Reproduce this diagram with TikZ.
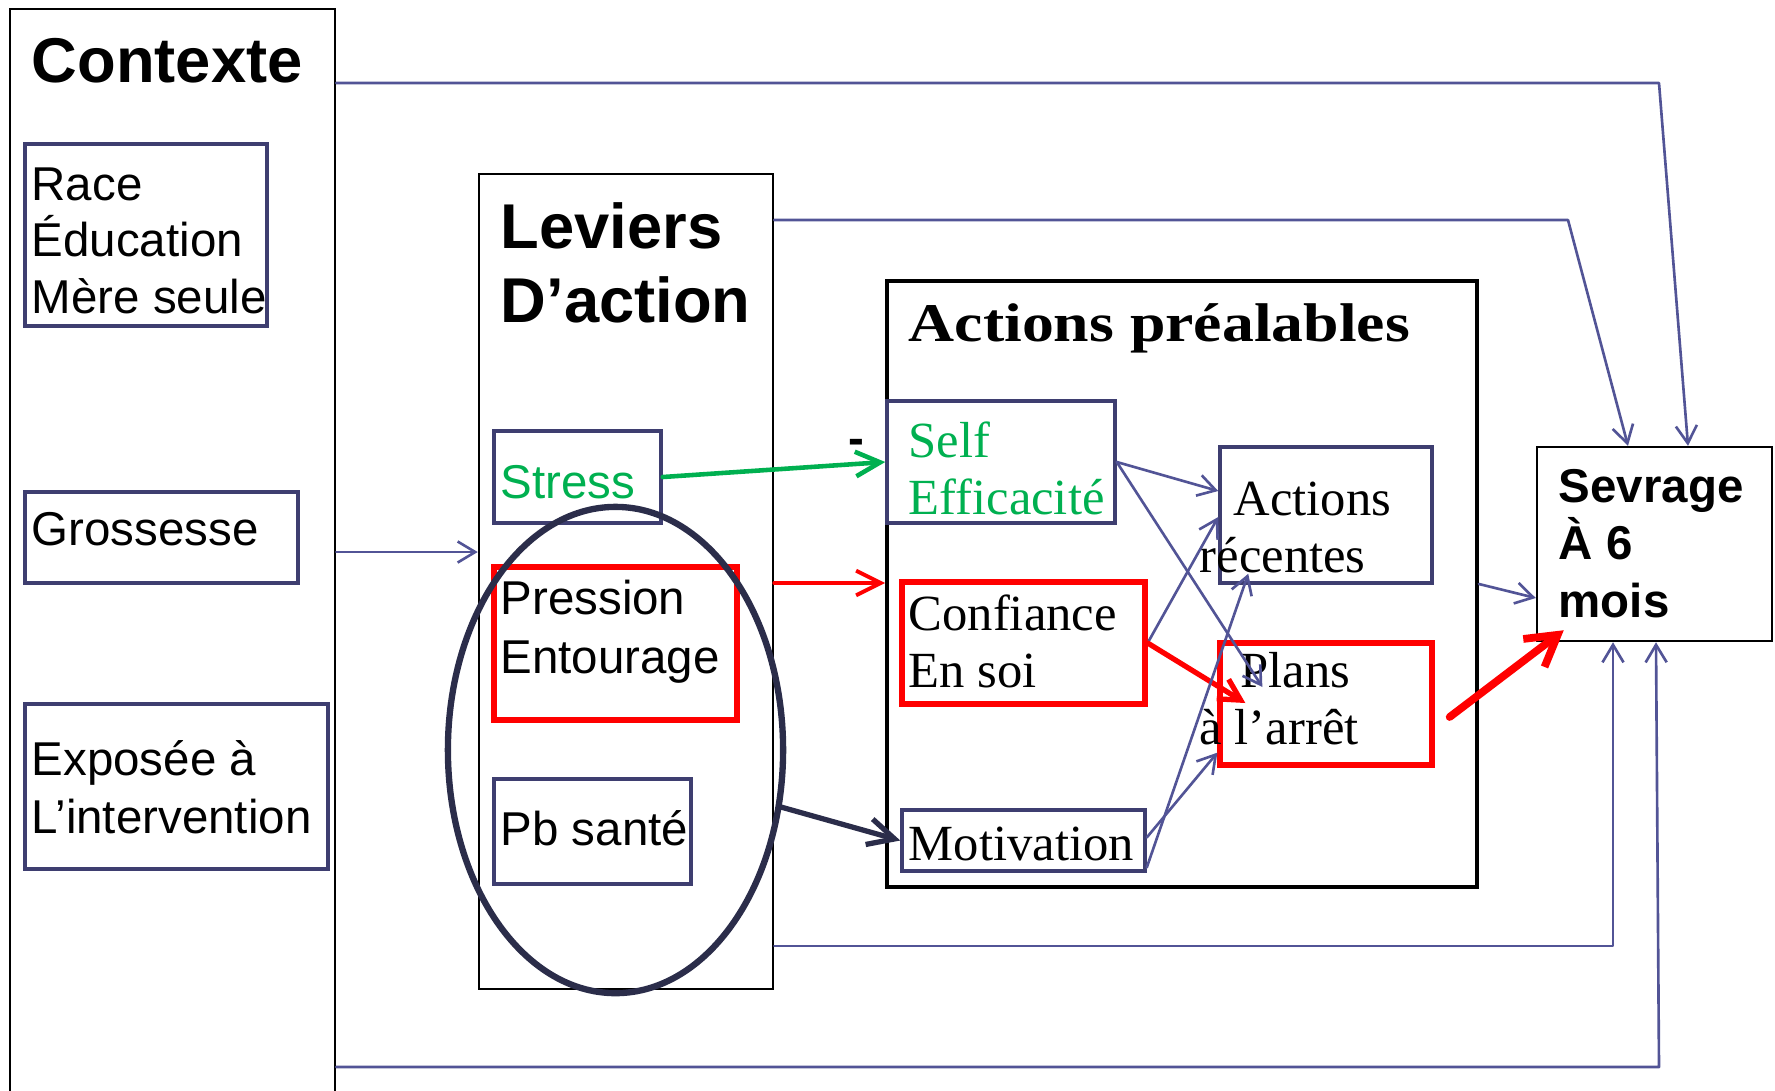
\documentclass[tikz,border=0pt]{standalone}
\usepackage{fontspec}
\setmainfont{Liberation Serif}
\setsansfont{Liberation Sans}
\usepackage{graphicx}
\usetikzlibrary{arrows.meta,fit,calc,shapes.geometric}

\definecolor{navy}{RGB}{62,62,112}
\definecolor{linec}{RGB}{82,84,150}
\definecolor{dnavy}{RGB}{43,45,74}
\definecolor{pgreen}{RGB}{0,176,80}
\definecolor{pred}{RGB}{255,0,0}

\newcommand\mlines[2]{\vtop{\baselineskip=#1\relax\lineskiplimit=-100pt\lineskip=0pt\halign{##\hfil\cr#2\crcr}}}

\tikzset{
  cbox/.style={draw=black, line width=0.7pt, inner sep=0pt},
  nbox/.style={draw=navy, line width=1pt, inner sep=0pt},
  rbox/.style={draw=pred, line width=1.5pt, inner sep=0pt},
  body/.style={inner sep=0pt, anchor=base west, font=\sffamily\fontsize{13.5}{16}\selectfont},
  hsans/.style={inner sep=0pt, anchor=base west, font=\sffamily\bfseries\fontsize{18}{21}\selectfont},
  bsans/.style={inner sep=0pt, anchor=base west, font=\sffamily\bfseries\fontsize{13.5}{16}\selectfont},
  serifbody/.style={inner sep=0pt, anchor=base west, font=\rmfamily\fontsize{14.4}{16.4}\selectfont},
  ttl/.style={inner sep=0pt, anchor=base west, font=\rmfamily\bfseries\fontsize{15.5}{18}\selectfont},
  thinarr/.style={draw=linec, line width=0.75pt, line cap=round, line join=round,
    -{Straight Barb[length=5pt,width=6pt]}},
  greenarr/.style={draw=pgreen, line width=1.3pt, line cap=round, line join=round,
    -{Straight Barb[length=7pt,width=7pt]}},
  redarr/.style={draw=pred, line width=1.1pt, line cap=round, line join=round,
    -{Straight Barb[length=7pt,width=7pt]}},
  redarrb/.style={draw=pred, line width=1.5pt, line cap=round, line join=round,
    -{Straight Barb[length=6pt,width=6.5pt]}},
  redarrc/.style={draw=pred, line width=2.2pt, line cap=round, line join=round,
    -{Straight Barb[length=8.5pt,width=10pt]}},
  darkarr/.style={draw=dnavy, line width=1.5pt, line cap=round, line join=round,
    -{Straight Barb[length=7.5pt,width=7.5pt]}},
}

\begin{document}
\begin{tikzpicture}[x=0.01cm,y=-0.01cm]
\useasboundingbox (0,0) rectangle (1775,1090);
\clip (0,0) rectangle (1775,1090);

% containers
\node[cbox, fit={(10,9) (335,1100)}] (ctx) {};
\node[cbox, fit={(479,174) (773,989)}] (lev) {};
\node[cbox, line width=1.1pt, fit={(887,281) (1477,887)}] (ap) {};
\node[cbox, fit={(1537,447) (1772,641)}] (sev) {};

% boxes
\node[nbox, fit={(25,144) (267,326)}] (race) {};
\node[nbox, fit={(25,492) (298,583)}] (gro) {};
\node[nbox, fit={(25,704) (328,869)}] (expo) {};
\node[nbox, fit={(494,431) (661,523)}] (str) {};
\node[rbox, fit={(494,567) (737,720)}] (pres) {};
\node[nbox, fit={(494,779) (691,884)}] (pb) {};
\node[nbox, fit={(887,401) (1115,523)}] (self) {};
\node[rbox, fit={(902,582) (1145,704)}] (conf) {};
\node[nbox, fit={(902,810) (1145,871)}] (mot) {};
\node[nbox, fit={(1220,447) (1432,583)}] (arec) {};
\node[rbox, fit={(1220,643) (1432,765)}] (plans) {};

% texts
\node[hsans] (ctxt) at (31,82) {Contexte};
\node[body] (racet) at (31,200) {\mlines{16.2pt}{Race\cr Éducation\cr Mère seule}};
\node[body] (grot) at (31,545) {Grossesse};
\node[body] (expot) at (31,775) {\mlines{16.5pt}{Exposée à\cr L’intervention}};
\node[hsans] (levt) at (500,248) {\mlines{21.3pt}{Leviers\cr D’action}};
\node[body, text=pgreen] (strt) at (500,498) {Stress};
\node[body] (prest) at (500,614) {\mlines{16.8pt}{Pression\cr Entourage}};
\node[body] (pbt) at (500,845) {Pb santé};
\node[ttl] (apt) at (908,341) {\scalebox{1.17}[1]{Actions préalables}};
\node[serifbody, text=pgreen] (selft) at (908,457) {\mlines{16.4pt}{Self\cr Efficacité}};
\node[serifbody] (conft) at (908,630) {\mlines{16.4pt}{Confiance\cr En soi}};
\node[serifbody] (mott) at (908,860) {Motivation};
\node[serifbody] (arect) at (1199,515) {\mlines{16.4pt}{\hskip0.34cm Actions\cr récentes}};
\node[serifbody] (plt) at (1199,687) {\mlines{16.4pt}{\hskip0.41cm Plans\cr à l’arrêt}};
\node[bsans] (sevt) at (1558,502) {\mlines{16.4pt}{Sevrage\cr À 6\cr mois}};
\node[bsans] (minus) at (848,454) {-};

% bend points
\coordinate (k1) at (1659,83);
\coordinate (k2) at (1568,220);
\coordinate (k3) at (1613,946);
\coordinate (k4) at (1659,1067);
\coordinate (k5) at (0,552);
\coordinate (k7) at (0,583);

% long connectors
\draw[thinarr] (ctx.east |- k1) -- (k1) -- ([shift={(33.5,0)}]sev.north);
\draw[thinarr] (lev.east |- k2) -- (k2) -- ([shift={(-26.5,0)}]sev.north);
\draw[thinarr] (lev.east |- k3) -- (k3) -- (k3 |- sev.south);
\draw[thinarr] (ctx.east |- k4) -- (k4) -- ([shift={(1.5,0)}]sev.south);
\draw[thinarr] (ctx.east |- k5) -- (lev.west |- k5);

% levers to actions
\draw[greenarr] (str.east) -- (self.west);
\draw[redarr] (lev.east |- k7) -- (ap.west |- k7);

% inner connectors
\draw[thinarr] (self.east) -- (arec.west |- 0,491);
\draw[thinarr] (self.east) -- ([shift={(45,-17)}]plans.west);
\draw[thinarr] (conf.east) -- ([shift={(0,2)}]arec.west);
\draw[redarrb] (conf.east) -- ([shift={(28,-1)}]plans.west);
\draw[thinarr] ([shift={(0,-3)}]mot.east) -- ([shift={(0,-15)}]plans.south west);
\draw[thinarr] ([shift={(0,27)}]mot.east) -- ([shift={(30,-11)}]arec.south west);

% to outcome
\draw[thinarr] (ap.east) -- (sev.west |- 0,598);
\draw[redarrc] ([shift={(15,13)}]plans.east) -- ([shift={(28,-12)}]sev.south west);

% ellipse
\node[ellipse, draw=dnavy, line width=1.8pt, minimum width=3.35cm, minimum height=4.86cm, inner sep=0pt] (ell) at (615.5,750) {};
\draw[darkarr] (ell.-19) -- (mot.west);
\end{tikzpicture}
\end{document}
